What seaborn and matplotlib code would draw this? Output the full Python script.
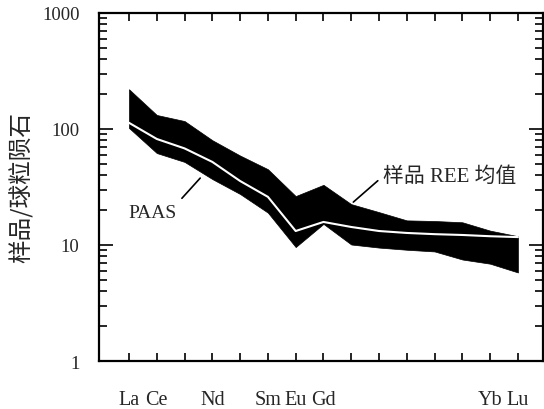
import matplotlib
matplotlib.use('Agg')
import matplotlib.pyplot as plt
import matplotlib.ticker as mticker
import numpy as np
import pandas as pd
import seaborn as sns

sns.set_style('ticks')
plt.rcParams['font.family'] = ['Liberation Serif', 'Noto Sans CJK SC']
plt.rcParams['axes.unicode_minus'] = False

elements = ['La', 'Ce', 'Pr', 'Nd', 'Pm', 'Sm', 'Eu', 'Gd',
            'Tb', 'Dy', 'Ho', 'Er', 'Tm', 'Yb', 'Lu']
shown_labels = ['La', 'Ce', '', 'Nd', '', 'Sm', 'Eu', 'Gd',
                '', '', '', '', '', 'Yb', 'Lu']
# sample range (min / max) and PAAS, chondrite normalised
sample_max = [220, 132, 117, 80, 59, 45, 26.4, 33, 22.5, 19.2, 16.3, 16.1, 15.7, 13.3, 11.9]
sample_min = [102, 62, 52, 37, 27.5, 19, 9.6, 15.2, 10.1, 9.5, 9.1, 8.8, 7.5, 6.9, 5.8]
paas = [113, 82, 68, 52, 35.6, 26, 13.2, 15.8, 14.3, 13.2, 12.7, 12.4, 12.2, 11.9, 11.7]

df = pd.DataFrame({'pos': np.arange(len(elements)), 'element': elements,
                   'lo': sample_min, 'hi': sample_max, 'paas': paas})

fig = plt.figure(figsize=(5.44, 4.10), dpi=100)
ax = fig.add_axes([0.182, 0.117, 0.816, 0.849])

ax.fill_between(df['pos'], df['lo'], df['hi'], color='black', lw=0.5)
sns.lineplot(data=df, x='pos', y='paas', color='white', lw=1.5, ax=ax)

ax.set_yscale('log')
ax.set_ylim(1, 1000)
ax.set_xlim(-1.08, 14.9)
ax.set_xticks(df['pos'])
ax.set_xticklabels(shown_labels, fontsize=14.5)
ax.yaxis.set_major_formatter(mticker.FuncFormatter(lambda v, p: f'{v:g}'))
ax.yaxis.set_minor_formatter(mticker.NullFormatter())
ax.tick_params(axis='y', which='major', labelsize=13.5)
ax.tick_params(axis='both', which='both', direction='in', top=True, right=True,
               width=1.2, color='black')
ax.tick_params(axis='x', which='major', length=6, pad=21)
ax.tick_params(axis='y', which='major', length=10, pad=14)
ax.tick_params(axis='y', which='minor', length=6)
for s in ax.spines.values():
    s.set_linewidth(1.6)
    s.set_color('black')

ax.set_xlabel('')
ax.set_ylabel('样品/球粒陨石', fontsize=17, labelpad=6,
              family=['Noto Sans CJK SC', 'DejaVu Sans'])

ax.annotate('PAAS', xy=(2.63, 39.3), xytext=(1.73, 19.2), fontsize=14,
            ha='right', va='center',
            arrowprops=dict(arrowstyle='-', color='black', lw=1.2,
                            relpos=(1, 1)))
ax.annotate('样品 REE 均值', xy=(8.0, 22.6), xytext=(9.15, 39.3), fontsize=15,
            ha='left', va='center',
            family=['Liberation Serif', 'Noto Sans CJK SC'],
            arrowprops=dict(arrowstyle='-', color='black', lw=1.2,
                            relpos=(0, 0.5)))

fig.savefig('out.png', dpi=100)
